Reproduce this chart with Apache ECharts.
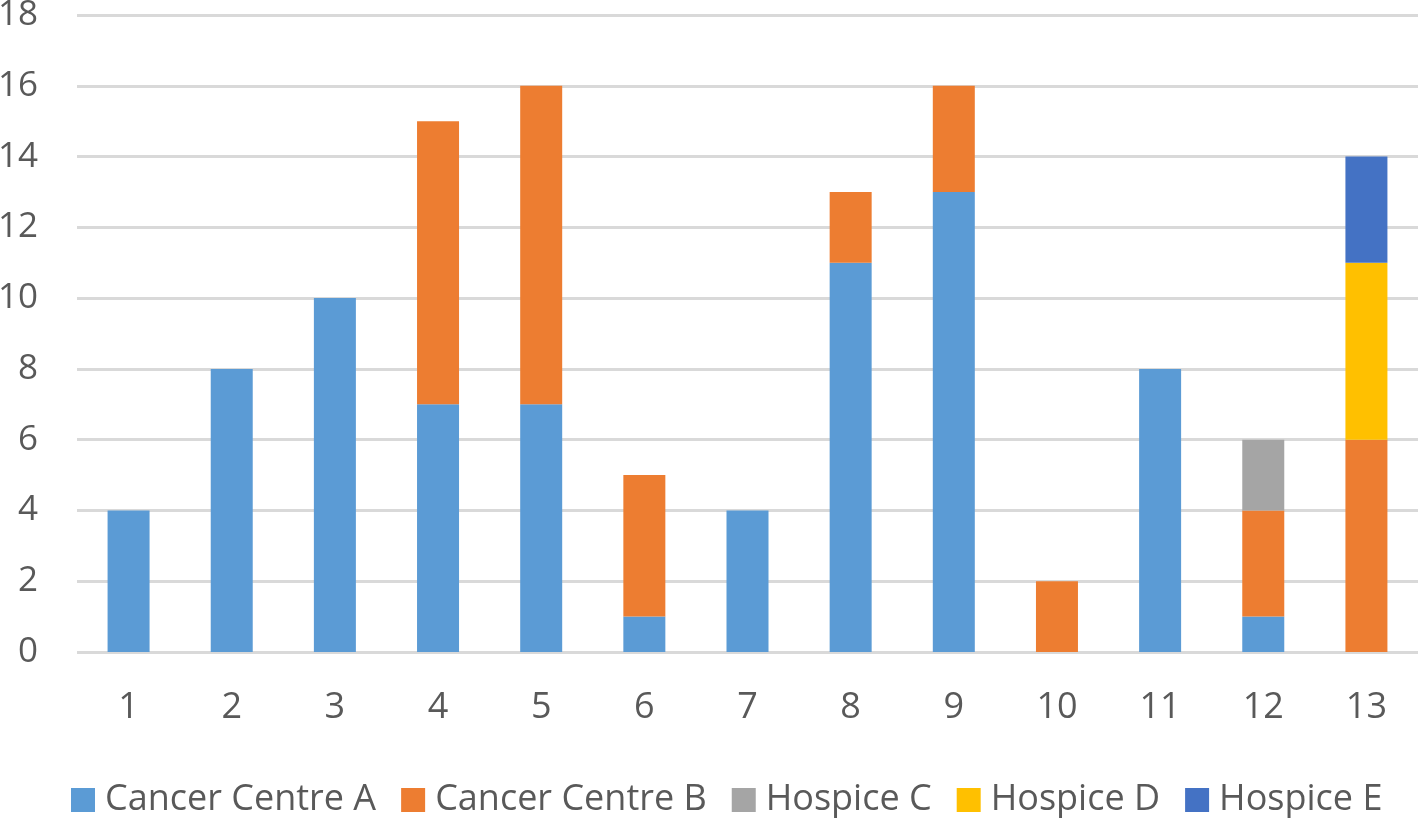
<!DOCTYPE html>
<html>
<head>
<meta charset="utf-8">
<script src="https://cdn.jsdelivr.net/npm/echarts@6/dist/echarts.min.js"></script>
<style>html,body{margin:0;padding:0;background:#fff;}#c{width:1418px;height:818px;}</style>
</head>
<body>
<div id="c"></div>
<script>
const categories = ['1','2','3','4','5','6','7','8','9','10','11','12','13'];
const cancerCentreA = [4, 8, 10, 7, 7, 1, 4, 11, 13, 0, 8, 1, 0];
const cancerCentreB = [0, 0, 0, 8, 9, 4, 0, 2, 3, 2, 0, 3, 6];
const hospiceC = [0, 0, 0, 0, 0, 0, 0, 0, 0, 0, 0, 2, 0];
const hospiceD = [0, 0, 0, 0, 0, 0, 0, 0, 0, 0, 0, 0, 5];
const hospiceE = [0, 0, 0, 0, 0, 0, 0, 0, 0, 0, 0, 0, 3];
const seriesNames = ['Cancer Centre A', 'Cancer Centre B', 'Hospice C', 'Hospice D', 'Hospice E'];
const colors = ['#5b9bd5', '#ed7d31', '#a5a5a5', '#ffc000', '#4472c4'];

const chart = echarts.init(document.getElementById('c'));
const dataSets = [cancerCentreA, cancerCentreB, hospiceC, hospiceD, hospiceE];
const font = 'Open Sans, Liberation Sans, sans-serif';
chart.setOption({
  animation: false,
  color: colors,
  grid: { left: 77, right: 0, top: 15, bottom: 166, containLabel: false, outerBoundsMode: 'none' },
  legend: {
    top: 777,
    left: 66,
    itemWidth: 24, itemHeight: 24, itemGap: 25,
    icon: 'rect',
    textStyle: { fontSize: 36, color: '#595959', fontFamily: font, padding: [0, 0, 0, 5] },
    data: seriesNames
  },
  xAxis: {
    type: 'category',
    data: categories,
    axisLine: { show: false },
    axisTick: { show: false },
    axisLabel: { fontSize: 36, color: '#595959', fontFamily: font, margin: 38 }
  },
  yAxis: {
    type: 'value',
    min: 0, max: 18, interval: 2,
    axisLine: { show: false },
    axisTick: { show: false },
    axisLabel: { fontSize: 35, color: '#595959', fontFamily: font, margin: 39 },
    splitLine: { lineStyle: { color: '#d9d9d9', width: 3 } }
  },
  series: seriesNames.map((n, i) => ({
    name: n,
    type: 'bar',
    stack: 'total',
    barWidth: 42,
    data: dataSets[i]
  }))
});
</script>
</body>
</html>
